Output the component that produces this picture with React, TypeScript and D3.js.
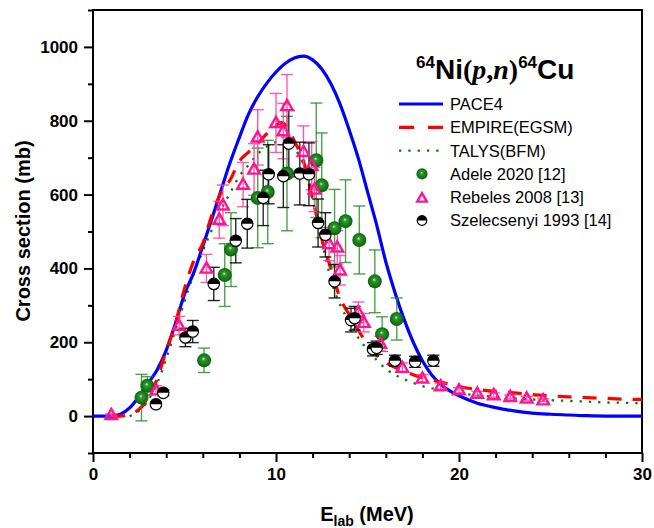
import React, { useEffect, useRef } from 'react';
import * as d3 from 'd3';

// model calculations, [E_lab (MeV), cross section (mb)]
const pace4: number[][] = [
  [0, 0], [1, 0], [1.5, 5], [2, 22], [2.5, 52], [3, 88], [3.5, 125], [4, 178], [4.5, 250],
  [5, 330], [5.5, 388], [6, 460], [6.5, 535], [7, 612], [7.5, 688], [8, 755], [8.5, 818],
  [9, 865], [9.5, 902], [10, 932], [10.5, 955], [11, 970], [11.5, 975], [12, 965],
  [12.5, 940], [13, 900], [13.5, 845], [14, 775], [14.5, 698], [15, 608], [15.5, 518],
  [16, 418], [16.5, 335], [17, 262], [17.5, 200], [18, 150], [18.5, 112], [19, 86],
  [19.5, 68], [20, 55], [21, 35], [22, 23], [23, 14], [24, 8], [25, 5], [26, 3], [27, 1],
  [28, 0], [30, 0]
];
const empire: number[][] = [
  [1, 0], [1.5, 0], [2, 3], [2.5, 18], [3, 45], [3.5, 100], [4, 177], [4.5, 250], [5, 345],
  [5.5, 420], [6, 468], [6.5, 545], [7, 605], [7.5, 640], [8, 690], [8.5, 715], [9, 738],
  [9.5, 765], [10, 788], [10.3, 795], [10.7, 775], [11, 745], [11.5, 690], [12, 590],
  [12.5, 480], [13, 400], [13.5, 320], [14, 275], [14.5, 232], [15, 195], [15.5, 165],
  [16, 145], [16.5, 132], [17, 122], [17.5, 112], [18, 104], [19, 92], [20, 80], [21, 72],
  [22, 67], [23, 63], [24, 58], [25, 55], [26, 52], [27, 50], [28, 48], [29, 46], [30, 45]
];
const talys: number[][] = [
  [2, 0], [2.5, 14], [3, 42], [3.5, 88], [4, 155], [4.5, 232], [5, 310], [5.5, 385],
  [6, 447], [6.5, 505], [7, 560], [7.5, 605], [8, 650], [8.5, 680], [9, 710], [9.5, 730],
  [10, 742], [10.5, 745], [11, 725], [11.5, 680], [12, 585], [12.5, 475], [13, 370],
  [13.5, 302], [14, 255], [14.5, 212], [15, 180], [15.5, 152], [16, 128], [16.5, 112],
  [17, 100], [17.5, 90], [18, 81], [19, 71], [20, 62], [21, 56], [22, 52], [23, 48],
  [24, 45], [25, 43], [26, 41], [27, 39], [28, 37], [29, 36], [30, 35]
];

// experimental data, [E_lab (MeV), cross section (mb), error (mb)]
const adele: number[][] = [
  [2.65, 50, 63], [2.97, 82, 25], [6.07, 151, 33], [7.2, 382, 85], [7.54, 451, 100],
  [9.0, 591, 135], [9.55, 607, 140], [10.6, 657, 155], [12.2, 693, 155], [12.5, 625, 142],
  [13.2, 509, 105], [13.8, 528, 112], [14.55, 477, 92], [15.4, 365, 85], [15.8, 222, 47],
  [16.6, 263, 57]
];
const rebeles: number[][] = [
  [1.0, 3, 3], [3.45, 70, 12], [4.7, 245, 25], [6.2, 400, 38], [6.9, 532, 50],
  [7.1, 571, 55], [8.2, 627, 60], [8.8, 668, 70], [9.0, 755, 75], [10.0, 794, 80],
  [10.4, 772, 75], [10.6, 840, 85], [11.5, 716, 70], [11.95, 678, 65], [12.1, 614, 60],
  [12.9, 466, 45], [13.35, 457, 45], [13.5, 395, 40], [14.5, 281, 28], [14.8, 253, 25],
  [15.7, 196, 20], [16.9, 131, 13], [18.0, 102, 10], [19.0, 81, 8], [20.0, 70, 7],
  [21.0, 61, 6], [21.9, 57, 6], [22.8, 52, 5], [23.7, 48, 5], [24.6, 43, 4]
];
const szelecsenyi: number[][] = [
  [3.44, 32, 5], [3.84, 63, 8], [5.05, 213, 25], [5.45, 229, 30], [6.6, 358, 45],
  [7.8, 475, 60], [8.43, 521, 66], [9.3, 591, 75], [9.6, 655, 80], [10.4, 650, 85],
  [10.7, 738, 90], [11.3, 657, 85], [11.8, 655, 85], [12.3, 523, 65], [12.7, 491, 60],
  [13.2, 365, 45], [14.1, 260, 32], [14.3, 265, 32], [15.3, 181, 18], [15.5, 185, 18],
  [16.5, 150, 15], [17.6, 147, 15], [18.6, 150, 15]
];

const xTicks = [0, 10, 20, 30];
const yTicks = [0, 200, 400, 600, 800, 1000];
const legendNames = ['PACE4', 'EMPIRE(EGSM)', 'TALYS(BFM)', 'Adele 2020 [12]', 'Rebeles 2008 [13]', 'Szelecsenyi 1993 [14]'];

const W = 654, H = 528;
const FONT = '"Liberation Sans", Arial, Helvetica, sans-serif';
const SERIF = '"Liberation Serif", "Times New Roman", serif';
const PINK = '#ff1493';
const GREEN = '#008000';

export default function App() {
  const ref = useRef<HTMLDivElement>(null);

  useEffect(() => {
    const root = d3.select(ref.current);
    root.selectAll('*').remove();

    const svg = root.append('svg')
      .attr('width', W).attr('height', H)
      .style('position', 'absolute').style('left', 0).style('top', 0)
      .style('font-family', FONT);

    const x = d3.scaleLinear().domain([0, 30]).range([93, 642]);
    const y = d3.scaleLinear().domain([-100, 1100]).range([453, 10]);

    const defs = svg.append('defs');
    const grad = defs.append('radialGradient').attr('id', 'ball')
      .attr('cx', '50%').attr('cy', '50%').attr('r', '55%').attr('fx', '45%').attr('fy', '38%');
    grad.append('stop').attr('offset', '0%').attr('stop-color', '#e4f5e4');
    grad.append('stop').attr('offset', '22%').attr('stop-color', '#2f9a2f');
    grad.append('stop').attr('offset', '100%').attr('stop-color', '#075c07');
    defs.append('clipPath').attr('id', 'plot').append('rect')
      .attr('x', 93).attr('y', 10).attr('width', 549).attr('height', 443);

    // axes: minor + major ticks pointing outward
    const minorX = d3.range(0, 31, 2).filter(d => xTicks.indexOf(d) < 0);
    const minorY = d3.range(-100, 1101, 100).filter(d => yTicks.indexOf(d) < 0);
    const fmt = d3.format('d');

    const xMinor = svg.append('g').attr('transform', 'translate(0,453)')
      .call(d3.axisBottom(x).tickValues(minorX).tickSize(5).tickSizeOuter(0).tickFormat(() => ''));
    const xMajor = svg.append('g').attr('transform', 'translate(0,453)')
      .call(d3.axisBottom(x).tickValues(xTicks).tickSize(9).tickSizeOuter(0).tickPadding(6).tickFormat(fmt));
    const yMinor = svg.append('g').attr('transform', 'translate(93,0)')
      .call(d3.axisLeft(y).tickValues(minorY).tickSize(5).tickSizeOuter(0).tickFormat(() => ''));
    const yMajor = svg.append('g').attr('transform', 'translate(93,0)')
      .call(d3.axisLeft(y).tickValues(yTicks).tickSize(9).tickSizeOuter(0).tickPadding(6).tickFormat(fmt));

    [xMinor, xMajor, yMinor, yMajor].forEach(g => {
      g.select('.domain').remove();
      g.selectAll('line').attr('stroke', '#000').attr('stroke-width', 2);
      g.selectAll('text').attr('font-family', FONT).attr('font-size', 17)
        .attr('font-weight', 'bold').attr('fill', '#000');
    });

    // frame
    svg.append('rect').attr('x', 93).attr('y', 10).attr('width', 549).attr('height', 443)
      .attr('fill', 'none').attr('stroke', '#000').attr('stroke-width', 2);

    // axis titles
    svg.append('text')
      .attr('transform', 'translate(30,231) rotate(-90)')
      .attr('text-anchor', 'middle').attr('font-size', 20).attr('font-weight', 'bold')
      .text('Cross section (mb)');
    const xt = svg.append('text').attr('x', 367).attr('y', 521)
      .attr('text-anchor', 'middle').attr('font-size', 20).attr('font-weight', 'bold');
    xt.append('tspan').text('E');
    xt.append('tspan').attr('font-size', 14).attr('dy', 5).text('lab');
    xt.append('tspan').attr('dy', -5).text(' (MeV)');

    const plot = svg.append('g').attr('clip-path', 'url(#plot)');

    const line = d3.line<number[]>()
      .x(d => x(d[0])).y(d => y(d[1]))
      .curve(d3.curveMonotoneX);

    plot.append('path').attr('d', line(talys)).attr('fill', 'none')
      .attr('stroke', GREEN).attr('stroke-width', 2.3).attr('stroke-dasharray', '2.3,7');
    plot.append('path').attr('d', line(pace4)).attr('fill', 'none')
      .attr('stroke', '#0000ff').attr('stroke-width', 3.2);
    plot.append('path').attr('d', line(empire)).attr('fill', 'none')
      .attr('stroke', '#ff0000').attr('stroke-width', 3.2).attr('stroke-dasharray', '14,11');

    // error bars
    function errBars(data: number[][], color: string, opacity: number) {
      const g = plot.append('g').attr('stroke', color).attr('stroke-width', 1.4)
        .attr('stroke-opacity', opacity).attr('fill', 'none');
      data.forEach(d => {
        const cx = x(d[0]), y0 = y(d[1] - d[2]), y1 = y(d[1] + d[2]);
        g.append('line').attr('x1', cx).attr('x2', cx).attr('y1', y0).attr('y2', y1);
        g.append('line').attr('x1', cx - 6).attr('x2', cx + 6).attr('y1', y0).attr('y2', y0);
        g.append('line').attr('x1', cx - 6).attr('x2', cx + 6).attr('y1', y1).attr('y2', y1);
      });
    }
    errBars(adele, '#1f8a1f', 0.8);
    errBars(rebeles, '#ff3d9e', 0.85);
    errBars(szelecsenyi, '#000', 0.85);

    // markers
    function ball(g: any, cx: number, cy: number, r: number) {
      g.append('circle').attr('cx', cx).attr('cy', cy).attr('r', r).attr('fill', 'url(#ball)');
    }
    function tri(g: any, cx: number, cy: number, s: number) {
      g.append('path')
        .attr('d', `M${cx},${cy - s * 1.05}L${cx + s},${cy + s * 0.72}L${cx - s},${cy + s * 0.72}Z`)
        .attr('fill', 'none').attr('stroke', PINK).attr('stroke-width', 2.4);
    }
    function half(g: any, cx: number, cy: number, r: number) {
      g.append('circle').attr('cx', cx).attr('cy', cy).attr('r', r)
        .attr('fill', '#fff').attr('stroke', '#000').attr('stroke-width', 1.2);
      g.append('path')
        .attr('d', `M${cx - r},${cy}A${r},${r} 0 0 1 ${cx + r},${cy}Z`)
        .attr('fill', '#000');
    }

    const marks = plot.append('g');
    adele.forEach(d => ball(marks, x(d[0]), y(d[1]), 7));
    rebeles.forEach(d => tri(marks, x(d[0]), y(d[1]), 5.8));
    szelecsenyi.forEach(d => half(marks, x(d[0]), y(d[1]), 5.7));

    // title
    const title = svg.append('text').attr('x', 416).attr('y', 79)
      .attr('font-size', 28).attr('font-weight', 'bold');
    title.append('tspan').attr('font-size', 17).attr('dy', -11).text('64');
    title.append('tspan').attr('dy', 11).text('Ni');
    title.append('tspan').attr('font-family', SERIF).text('(');
    title.append('tspan').attr('font-family', SERIF).attr('font-style', 'italic').text('p');
    title.append('tspan').attr('font-family', SERIF).text(',');
    title.append('tspan').attr('font-family', SERIF).attr('font-style', 'italic').text('n');
    title.append('tspan').attr('font-family', SERIF).text(')');
    title.append('tspan').attr('font-size', 17).attr('dy', -11).text('64');
    title.append('tspan').attr('dy', 11).text('Cu');

    // legend
    const leg = svg.append('g');
    const rowY = (i: number) => 104 + i * 23.3;
    leg.append('line').attr('x1', 399).attr('x2', 443).attr('y1', rowY(0)).attr('y2', rowY(0))
      .attr('stroke', '#0000ff').attr('stroke-width', 3.2);
    leg.append('line').attr('x1', 399).attr('x2', 443).attr('y1', rowY(1)).attr('y2', rowY(1))
      .attr('stroke', '#ff0000').attr('stroke-width', 3.2).attr('stroke-dasharray', '15,14');
    leg.append('line').attr('x1', 399).attr('x2', 443).attr('y1', rowY(2)).attr('y2', rowY(2))
      .attr('stroke', GREEN).attr('stroke-width', 2.3).attr('stroke-dasharray', '2.3,7');
    ball(leg, 422, rowY(3), 5.6);
    tri(leg, 422, rowY(4) + 1, 4.8);
    half(leg, 422, rowY(5), 4.8);
    legendNames.forEach((name, i) => {
      leg.append('text').attr('x', 450).attr('y', rowY(i)).attr('dy', '0.36em')
        .attr('font-size', 16.5).text(name);
    });
  }, []);

  return <div ref={ref} />;
}
